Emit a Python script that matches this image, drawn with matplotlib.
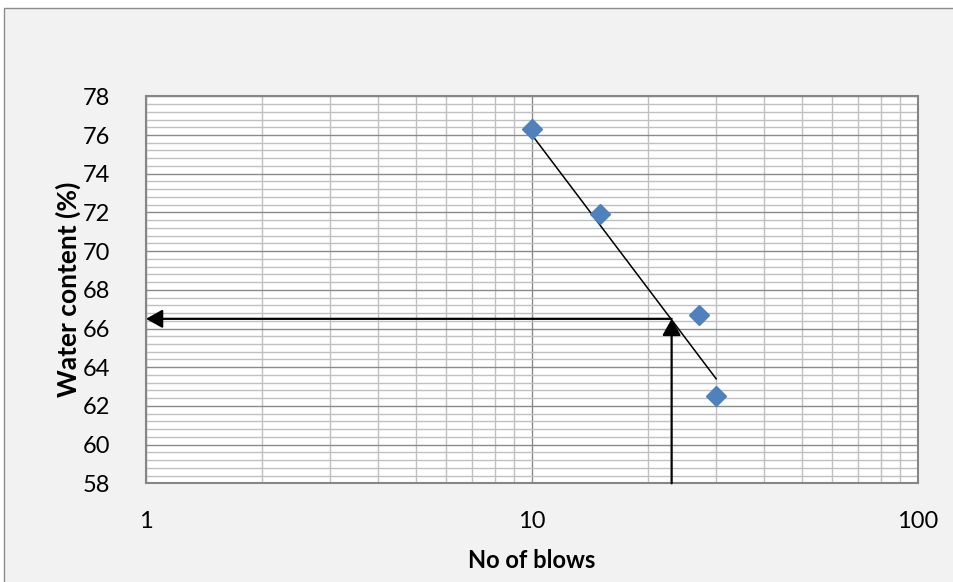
import matplotlib
matplotlib.use('Agg')
import matplotlib.pyplot as plt
from matplotlib.patches import Rectangle
from matplotlib.ticker import MultipleLocator, LogLocator, FixedLocator, NullFormatter

# data
blows = [10, 15, 27, 30]
water = [76.3, 71.9, 66.7, 62.5]

# hand drawn flow line (end points)
trend_blows = [10, 30]
trend_water = [76.0, 63.4]

# liquid limit read-off
ll_blows = 23
ll_water = 66.5

x_ticks = [1, 10, 100]
x_tick_labels = ['1', '10', '100']

plt.rcParams['font.family'] = ['Lato', 'DejaVu Sans']

fig = plt.figure(figsize=(9.54, 5.82), dpi=100)
fig.patch.set_facecolor('white')
fig.patches.append(Rectangle((4 / 954, -0.02), 1.05, 1 - 8 / 582 + 0.02,
                             transform=fig.transFigure, facecolor='#F2F2F2',
                             edgecolor='#8C8C8C', linewidth=1.0, zorder=-5))

ax = fig.add_axes([146 / 954, 1 - 483.3 / 582, (918 - 146) / 954, (483.3 - 96.3) / 582])
ax.set_facecolor('white')

ax.set_xscale('log')
ax.set_xlim(1, 100)
ax.set_ylim(58, 78)

ax.xaxis.set_major_locator(FixedLocator(x_ticks))
ax.set_xticklabels(x_tick_labels)
ax.xaxis.set_minor_locator(LogLocator(base=10, subs=range(2, 10)))
ax.xaxis.set_minor_formatter(NullFormatter())
ax.yaxis.set_major_locator(MultipleLocator(2))
ax.yaxis.set_minor_locator(MultipleLocator(0.4))

ax.grid(which='major', color='#8A8A8A', linewidth=1.0, zorder=0)
ax.grid(which='minor', color='#C0C0C0', linewidth=1.0, zorder=0)
ax.set_axisbelow(True)

ax.tick_params(which='both', length=0)
ax.tick_params(axis='y', pad=26, labelsize=17)
ax.tick_params(axis='x', pad=20, labelsize=17)

for s in ax.spines.values():
    s.set_color('#868686')
    s.set_linewidth(1.5)

# flow line and points
ax.plot(trend_blows, trend_water, color='black', linewidth=1.1, zorder=3)
ax.plot(blows, water, linestyle='none', marker='D', markersize=10.5,
        color='#4F81BD', markeredgecolor='#4F81BD', zorder=4)

# read-off arrows
arrow_props = dict(arrowstyle='-|>,head_length=0.5,head_width=0.28', color='black',
                   linewidth=1.6, mutation_scale=20, shrinkA=0, shrinkB=0)
ax.annotate('', xy=(1, ll_water), xytext=(ll_blows, ll_water), arrowprops=arrow_props, zorder=5)
ax.annotate('', xy=(ll_blows, ll_water), xytext=(ll_blows, 58), arrowprops=arrow_props, zorder=5)

ax.set_xlabel('No of blows', fontsize=17, fontweight='bold', labelpad=12)
ax.set_ylabel('Water content (%)', fontsize=19, fontweight='bold', labelpad=1)

fig.savefig('out.png', dpi=100, facecolor=fig.get_facecolor())
